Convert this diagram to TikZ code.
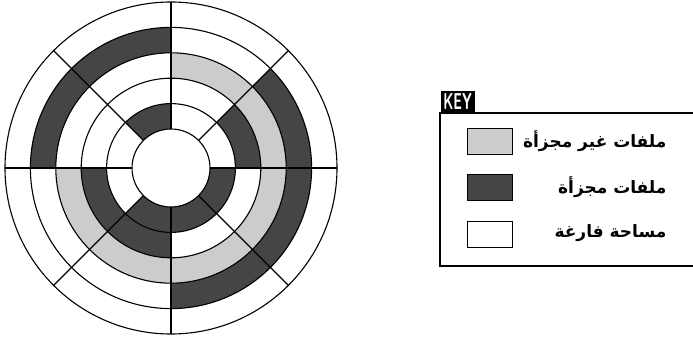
\documentclass[tikz,border=0pt]{standalone}
\usepackage{fontspec}
\newfontfamily\arabicfont[Script=Arabic]{DejaVu Sans}
\TeXXeTstate=1
\usetikzlibrary{positioning}

\definecolor{fragcol}{gray}{0.27}
\definecolor{unfragcol}{gray}{0.8}

\newcommand*{\rhole}{39}
\newcommand*{\rstep}{25.4}

\begin{document}
\begin{tikzpicture}
[
	x=1pt,y=1pt,
	line width=1.1pt,
	frag/.style={fill=fragcol},
	unfrag/.style={fill=unfragcol},
	swatch/.style={draw,line width=0.8pt,minimum width=45pt,minimum height=26pt,inner sep=0pt},
	keylabel/.style={anchor=east,font=\arabicfont\bfseries\fontsize{17}{19}\selectfont,inner sep=0pt}
]

	\useasboundingbox (0,0) rectangle (693,340);
	\coordinate (disk) at (171,172);

	% filled sectors: ring/sector/style
	\begin{scope}[shift={(disk)}]
	\foreach \ring/\sec/\kind in {1/2/frag,1/5/frag,1/6/frag,1/7/frag,
		2/0/frag,2/4/frag,2/5/frag,
		3/0/unfrag,3/1/unfrag,3/4/unfrag,3/5/unfrag,3/6/unfrag,3/7/unfrag,
		4/0/frag,4/2/frag,4/3/frag,4/6/frag,4/7/frag}
	{
		\pgfmathsetmacro{\ra}{\rhole+(\ring-1)*\rstep}
		\pgfmathsetmacro{\rb}{\ra+\rstep}
		\pgfmathsetmacro{\aa}{\sec*45}
		\pgfmathsetmacro{\ab}{\aa+45}
		\fill[\kind] (\aa:\ra pt) arc[start angle=\aa,end angle=\ab,radius=\ra pt]
			-- (\ab:\rb pt) arc[start angle=\ab,end angle=\aa,radius=\rb pt] -- cycle;
	}

	% rings
	\foreach \i in {0,...,5}
		\draw (0,0) circle[radius={(\rhole+\i*\rstep)*1pt}];

	% sector lines
	\foreach \a in {0,45,...,315}
		\draw (\a:\rhole pt) -- (\a:{(\rhole+5*\rstep)*1pt});
	\end{scope}

	% key
	\begin{scope}
	\clip (0,0) rectangle (693,340);
	\draw (700,227) -- (440,227) -- (440,74) -- (700,74);
	\end{scope}
	\node[fill=black,text=white,anchor=south west,minimum width=34pt,minimum height=22pt,inner sep=0pt,
		font=\sffamily\bfseries\fontsize{23}{23}\selectfont] (keytab) at (440,226.5) {\scalebox{0.58}[1]{KEY}};

	\node[swatch,unfrag] (swunfrag) at (489.5,199) {};
	\node[swatch,frag,below=20pt of swunfrag] (swfrag) {};
	\node[swatch,fill=white,below=20pt of swfrag] (swfree) {};

	\node[keylabel] (lbunfrag) at (667,199) {\beginR ملفات غير مجزأة\endR};
	\node[keylabel] (lbfrag) at (667,153) {\beginR ملفات مجزأة\endR};
	\node[keylabel] (lbfree) at (667,107) {\beginR مساحة فارغة\endR};

\end{tikzpicture}
\end{document}
